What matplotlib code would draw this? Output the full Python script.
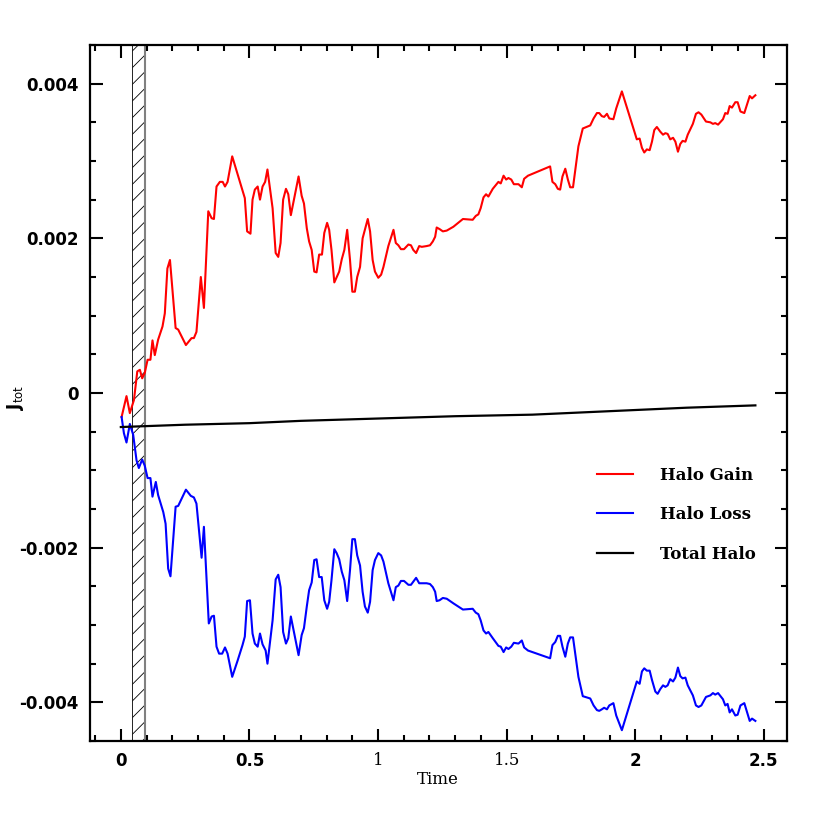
import matplotlib
matplotlib.use("Agg")
from matplotlib import pyplot as plt
import numpy as np

# Halo Gain (red)
gain_t = [0.003, 0.022, 0.035, 0.051, 0.064, 0.074, 0.083, 0.093, 0.104, 0.115,
          0.123, 0.132, 0.145, 0.162, 0.171, 0.181, 0.191, 0.213, 0.223, 0.253,
          0.275, 0.284, 0.294, 0.311, 0.323, 0.340, 0.353, 0.362, 0.372, 0.385,
          0.396, 0.405, 0.415, 0.433, 0.482, 0.491, 0.504, 0.512, 0.521, 0.532,
          0.541, 0.551, 0.561, 0.570, 0.590, 0.602, 0.612, 0.621, 0.631, 0.642,
          0.651, 0.661, 0.673, 0.691, 0.703, 0.712, 0.723, 0.732, 0.742, 0.752,
          0.761, 0.771, 0.782, 0.791, 0.802, 0.810, 0.819, 0.830, 0.849, 0.859,
          0.869, 0.880, 0.891, 0.900, 0.910, 0.919, 0.930, 0.940, 0.960, 0.969,
          0.979, 0.988, 1.001, 1.012, 1.021, 1.040, 1.060, 1.069, 1.079, 1.089,
          1.101, 1.118, 1.128, 1.137, 1.148, 1.160, 1.170, 1.189, 1.202, 1.213,
          1.222, 1.228, 1.239, 1.252, 1.267, 1.293, 1.330, 1.368, 1.380, 1.390,
          1.399, 1.410, 1.420, 1.429, 1.446, 1.468, 1.477, 1.488, 1.498, 1.507,
          1.518, 1.528, 1.546, 1.559, 1.568, 1.583, 1.669, 1.678, 1.689, 1.699,
          1.708, 1.717, 1.728, 1.738, 1.747, 1.758, 1.779, 1.796, 1.825, 1.838,
          1.851, 1.860, 1.870, 1.879, 1.890, 1.899, 1.915, 1.926, 1.948, 2.006,
          2.017, 2.026, 2.035, 2.045, 2.056, 2.065, 2.074, 2.084, 2.097, 2.108,
          2.117, 2.126, 2.136, 2.147, 2.156, 2.166, 2.175, 2.184, 2.195, 2.204,
          2.224, 2.236, 2.246, 2.257, 2.275, 2.292, 2.302, 2.311, 2.322, 2.341,
          2.350, 2.359, 2.367, 2.376, 2.389, 2.398, 2.409, 2.424, 2.445, 2.454,
          2.467]
gain = [-0.00031, -0.00004, -0.00026, -0.00009, 0.00028, 0.00030, 0.00019, 0.00026, 0.00043, 0.00043,
        0.00068, 0.00049, 0.00069, 0.00086, 0.00103, 0.00161, 0.00172, 0.00084, 0.00082, 0.00062,
        0.00071, 0.00071, 0.00079, 0.00150, 0.00110, 0.00235, 0.00226, 0.00225, 0.00267, 0.00273,
        0.00273, 0.00267, 0.00273, 0.00306, 0.00252, 0.00209, 0.00206, 0.00250, 0.00263, 0.00267,
        0.00250, 0.00267, 0.00273, 0.00289, 0.00239, 0.00181, 0.00176, 0.00194, 0.00250, 0.00264,
        0.00257, 0.00230, 0.00250, 0.00280, 0.00255, 0.00245, 0.00213, 0.00196, 0.00185, 0.00157,
        0.00156, 0.00179, 0.00179, 0.00207, 0.00220, 0.00211, 0.00185, 0.00143, 0.00157, 0.00173,
        0.00185, 0.00211, 0.00172, 0.00131, 0.00131, 0.00150, 0.00163, 0.00200, 0.00225, 0.00209,
        0.00172, 0.00157, 0.00149, 0.00153, 0.00163, 0.00190, 0.00211, 0.00194, 0.00191, 0.00186,
        0.00186, 0.00192, 0.00191, 0.00185, 0.00181, 0.00190, 0.00189, 0.00190, 0.00191, 0.00196,
        0.00202, 0.00214, 0.00212, 0.00209, 0.00210, 0.00215, 0.00225, 0.00224, 0.00229, 0.00231,
        0.00239, 0.00253, 0.00257, 0.00254, 0.00264, 0.00273, 0.00271, 0.00281, 0.00276, 0.00278,
        0.00276, 0.00270, 0.00270, 0.00266, 0.00277, 0.00281, 0.00293, 0.00273, 0.00270, 0.00264,
        0.00263, 0.00280, 0.00290, 0.00276, 0.00266, 0.00266, 0.00319, 0.00342, 0.00346, 0.00355,
        0.00362, 0.00362, 0.00358, 0.00357, 0.00361, 0.00355, 0.00354, 0.00368, 0.00390, 0.00328,
        0.00329, 0.00317, 0.00311, 0.00315, 0.00314, 0.00325, 0.00340, 0.00344, 0.00338, 0.00334,
        0.00336, 0.00335, 0.00328, 0.00330, 0.00325, 0.00312, 0.00322, 0.00326, 0.00325, 0.00334,
        0.00348, 0.00361, 0.00363, 0.00360, 0.00351, 0.00350, 0.00348, 0.00349, 0.00347, 0.00354,
        0.00362, 0.00361, 0.00371, 0.00369, 0.00376, 0.00376, 0.00364, 0.00362, 0.00384, 0.00381,
        0.00385]

# Halo Loss (blue)
loss_t = [0.003, 0.012, 0.022, 0.035, 0.048, 0.061, 0.070, 0.083, 0.093, 0.104,
          0.115, 0.123, 0.136, 0.145, 0.165, 0.174, 0.184, 0.193, 0.213, 0.223,
          0.253, 0.272, 0.284, 0.294, 0.314, 0.323, 0.342, 0.353, 0.362, 0.372,
          0.382, 0.394, 0.405, 0.415, 0.433, 0.454, 0.473, 0.482, 0.491, 0.502,
          0.512, 0.521, 0.532, 0.541, 0.551, 0.563, 0.570, 0.590, 0.602, 0.612,
          0.621, 0.631, 0.642, 0.651, 0.661, 0.673, 0.691, 0.703, 0.712, 0.723,
          0.732, 0.742, 0.752, 0.761, 0.771, 0.781, 0.791, 0.802, 0.810, 0.819,
          0.830, 0.839, 0.849, 0.859, 0.869, 0.880, 0.891, 0.900, 0.910, 0.919,
          0.930, 0.940, 0.949, 0.960, 0.969, 0.979, 0.988, 1.001, 1.012, 1.021,
          1.040, 1.060, 1.069, 1.079, 1.089, 1.101, 1.118, 1.128, 1.137, 1.148,
          1.160, 1.170, 1.189, 1.202, 1.213, 1.222, 1.228, 1.239, 1.252, 1.267,
          1.293, 1.330, 1.368, 1.380, 1.390, 1.399, 1.410, 1.420, 1.429, 1.446,
          1.468, 1.477, 1.488, 1.498, 1.507, 1.518, 1.528, 1.546, 1.559, 1.568,
          1.583, 1.669, 1.678, 1.689, 1.699, 1.708, 1.717, 1.728, 1.738, 1.747,
          1.758, 1.779, 1.796, 1.825, 1.838, 1.851, 1.860, 1.870, 1.879, 1.890,
          1.899, 1.915, 1.926, 1.948, 2.006, 2.017, 2.026, 2.035, 2.045, 2.056,
          2.065, 2.078, 2.087, 2.097, 2.108, 2.117, 2.126, 2.136, 2.147, 2.156,
          2.166, 2.175, 2.184, 2.195, 2.204, 2.224, 2.236, 2.246, 2.257, 2.275,
          2.292, 2.302, 2.311, 2.322, 2.341, 2.350, 2.359, 2.367, 2.376, 2.389,
          2.398, 2.409, 2.424, 2.445, 2.454, 2.467]
loss = [-0.00031, -0.00052, -0.00064, -0.00040, -0.00054, -0.00087, -0.00097, -0.00086, -0.00094, -0.00110,
        -0.00110, -0.00134, -0.00115, -0.00132, -0.00154, -0.00169, -0.00227, -0.00237, -0.00147, -0.00146,
        -0.00125, -0.00133, -0.00135, -0.00143, -0.00213, -0.00173, -0.00298, -0.00289, -0.00288, -0.00328,
        -0.00337, -0.00337, -0.00329, -0.00337, -0.00367, -0.00346, -0.00326, -0.00315, -0.00269, -0.00268,
        -0.00311, -0.00324, -0.00328, -0.00311, -0.00325, -0.00333, -0.00350, -0.00294, -0.00241, -0.00235,
        -0.00251, -0.00309, -0.00324, -0.00317, -0.00289, -0.00309, -0.00339, -0.00313, -0.00304, -0.00276,
        -0.00255, -0.00245, -0.00216, -0.00215, -0.00238, -0.00238, -0.00268, -0.00279, -0.00270, -0.00242,
        -0.00202, -0.00207, -0.00215, -0.00231, -0.00242, -0.00269, -0.00229, -0.00189, -0.00189, -0.00210,
        -0.00223, -0.00257, -0.00276, -0.00284, -0.00270, -0.00229, -0.00216, -0.00207, -0.00210, -0.00218,
        -0.00246, -0.00268, -0.00251, -0.00249, -0.00243, -0.00243, -0.00248, -0.00248, -0.00244, -0.00239,
        -0.00246, -0.00246, -0.00246, -0.00247, -0.00251, -0.00257, -0.00269, -0.00268, -0.00265, -0.00266,
        -0.00272, -0.00280, -0.00279, -0.00284, -0.00286, -0.00294, -0.00307, -0.00311, -0.00309, -0.00317,
        -0.00327, -0.00328, -0.00335, -0.00329, -0.00331, -0.00328, -0.00323, -0.00324, -0.00320, -0.00329,
        -0.00333, -0.00343, -0.00326, -0.00322, -0.00314, -0.00314, -0.00328, -0.00341, -0.00324, -0.00316,
        -0.00316, -0.00367, -0.00392, -0.00395, -0.00404, -0.00410, -0.00411, -0.00409, -0.00407, -0.00409,
        -0.00404, -0.00401, -0.00417, -0.00436, -0.00373, -0.00376, -0.00360, -0.00356, -0.00359, -0.00359,
        -0.00371, -0.00386, -0.00389, -0.00383, -0.00378, -0.00380, -0.00378, -0.00370, -0.00373, -0.00368,
        -0.00355, -0.00366, -0.00369, -0.00368, -0.00378, -0.00391, -0.00404, -0.00406, -0.00404, -0.00393,
        -0.00391, -0.00388, -0.00390, -0.00388, -0.00396, -0.00404, -0.00402, -0.00413, -0.00409, -0.00417,
        -0.00416, -0.00404, -0.00401, -0.00424, -0.00421, -0.00424]

# Total Halo (black)
total_t = [0.0, 0.25, 0.5, 0.7, 1.0, 1.3, 1.6, 1.8, 2.0, 2.2, 2.467]
total = [-0.00044, -0.00041, -0.00039, -0.00036, -0.00033, -0.00030, -0.00028, -0.00025, -0.00022, -0.00019, -0.00016]

# shaded interval
band = [0.043, 0.093]

xticks = [0, 0.5, 1, 1.5, 2, 2.5]
xtick_labels = ["0", "0.5", "1", "1.5", "2", "2.5"]
yticks = [0.004, 0.002, 0, -0.002, -0.004]
ytick_labels = ["0.004", "0.002", "0", "-0.002", "-0.004"]

plt.rcParams["hatch.linewidth"] = 0.6

fig = plt.figure(figsize=(8.3, 8.3), dpi=100)
ax = fig.add_axes([0.1084, 0.1072, 0.8398, 0.8386])

ax.axvspan(band[0], band[1], facecolor="white", edgecolor="black", hatch="//", lw=0.6, zorder=1)
ax.axvline(band[1], color="gray", lw=1.5, zorder=1)

ax.plot(gain_t, gain, color="red", lw=1.5, label="Halo Gain", zorder=3)
ax.plot(loss_t, loss, color="blue", lw=1.5, label="Halo Loss", zorder=3)
ax.plot(total_t, total, color="black", lw=1.6, label="Total Halo", zorder=4)

ax.set_xlim(-0.12, 2.59)
ax.set_ylim(-0.0045, 0.0045)

ax.set_xticks(xticks)
ax.set_xticklabels(xtick_labels)
ax.set_yticks(yticks)
ax.set_yticklabels(ytick_labels)
ax.set_xticks(np.arange(-0.1, 2.6, 0.1), minor=True)
ax.set_yticks(np.arange(-0.0045, 0.00451, 0.0005), minor=True)
ax.tick_params(which="both", direction="in", top=True, right=True, width=1.5)
ax.tick_params(which="major", length=9, labelsize=12, pad=8)
ax.tick_params(which="minor", length=4.5)
for sp in ax.spines.values():
    sp.set_linewidth(1.6)

for lab in ax.get_xticklabels():
    if lab.get_text() in ("1", "1.5"):
        lab.set_family("DejaVu Serif")
    else:
        lab.set_fontweight("bold")
for lab in ax.get_yticklabels():
    lab.set_fontweight("bold")

fig.text(438 / 830, 1 - 779 / 830, "Time", family="DejaVu Serif", fontsize=12,
         ha="center", va="center")
fig.text(15 / 830, 1 - 397 / 830, r"J$_{\rm tot}$", fontsize=12, fontweight="bold",
         rotation=90, ha="center", va="center")

leg = ax.legend(loc="upper left", bbox_to_anchor=(0.727, 0.394), frameon=False,
                handlelength=2.2, handletextpad=1.6, labelspacing=1.35,
                borderpad=0, borderaxespad=0,
                prop={"family": "DejaVu Serif", "weight": "bold", "size": 12})

fig.savefig("out.png", dpi=100)
